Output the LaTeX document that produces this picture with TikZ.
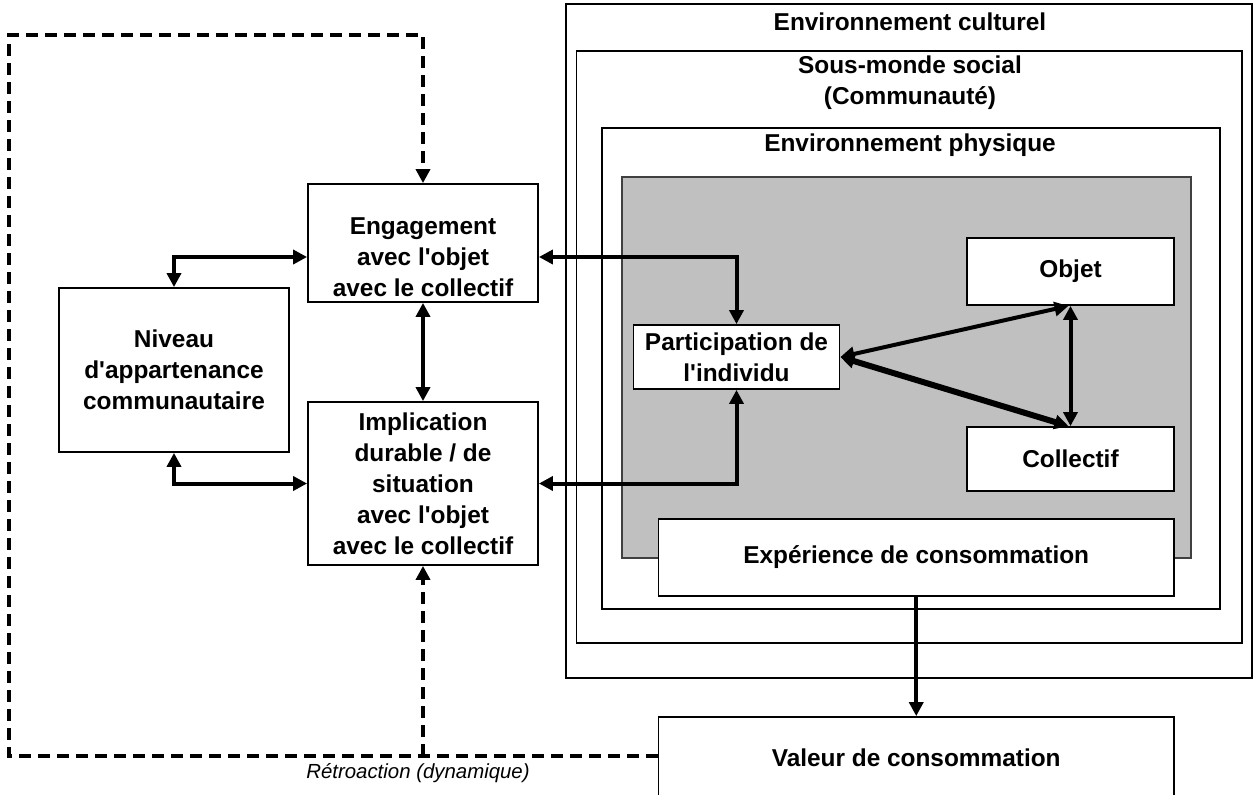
\documentclass[tikz,border=0pt]{standalone}
\usepackage{fontspec}
\setmainfont{Liberation Sans}[Ligatures=TeXOff]
\usetikzlibrary{arrows.meta,calc}
\definecolor{panel}{RGB}{192,192,192}
\begin{document}
\begin{tikzpicture}[x=0.5pt,y=-0.5pt,
  txt/.style={font=\fontsize{12.2}{15.5}\selectfont\bfseries, align=center, inner sep=0pt},
  box/.style={draw=black, line width=0.9pt, fill=white, inner sep=0pt, txt},
  frame/.style={draw=black, line width=0.9pt},
  link/.style={line width=2pt, -{Triangle[length=7pt,width=7pt]}},
  dlink/.style={line width=2pt, {Triangle[length=7pt,width=7pt]}-{Triangle[length=7pt,width=7pt]}},
  fb/.style={line width=2pt, dash pattern=on 6pt off 3.5pt},
  note/.style={font=\fontsize{10.2}{12}\selectfont\itshape, inner sep=0pt}]
\useasboundingbox (0,0) rectangle (1255,794);
\clip (0,0) rectangle (1255,794);

% nested environments
\draw[frame] (566,4) rectangle (1252,678);
\node[txt] (tcult) at (910,22) {Environnement culturel};
\draw[frame] (576.5,51) rectangle (1242,643);
\node[txt] (tsoc) at (910,83) {Sous-monde social\\(Communauté)};
\draw[frame] (601.6,128) rectangle (1220,609);
\node[txt] (tphys) at (910,145) {Environnement physique};
\draw[draw=black!75, line width=0.9pt, fill=panel] (622,177) rectangle (1190.7,558);

% inner blocks
\node[box, minimum width=103pt, minimum height=32pt] (par) at (736.5,357) {Participation de\\l'individu};
\node[box, minimum width=103.5pt, minimum height=33.5pt] (obj) at (1070.5,271.5) {Objet};
\node[box, minimum width=103.5pt, minimum height=32pt] (col) at (1070.5,459) {Collectif};
\node[box, minimum width=257.75pt, minimum height=38.5pt] (exp) at (916.25,557.5) {Expérience de consommation};
\node[box, minimum width=257.75pt, minimum height=40.5pt] (val) at (916.25,757.5) {Valeur de consommation};

% left-hand blocks
\node[box, minimum width=115pt, minimum height=59pt] (eng) at (423,243) {};
\node[txt] (engt) at (423,257) {Engagement\\avec l'objet\\avec le collectif};
\node[box, minimum width=115pt, minimum height=81.5pt] (imp) at (423,483.5) {Implication\\durable / de\\situation\\avec l'objet\\avec le collectif};
\node[box, minimum width=115pt, minimum height=82pt] (niv) at (174,370) {Niveau\\d'appartenance\\communautaire};

% solid connectors
\draw[dlink] (niv.north) |- (eng.west |- engt);
\draw[dlink] (niv.south) |- (imp.west);
\draw[dlink] (eng.south) -- (imp.north);
\draw[dlink] (eng.east |- engt) -| (par.north);
\draw[dlink] (imp.east) -| (par.south);
\draw[dlink] (par.east) -- ($(obj.south)+(-2,0)$);
\draw[dlink, line width=3pt] (par.east) -- ($(col.north)+(-2,0)$);
\draw[dlink] (obj.south) -- (col.north);
\draw[link] (exp.south) -- (val.north);

% feedback loop
\coordinate (fbl) at (9,756);
\coordinate (ftl) at (9,35);
\draw[fb, -{Triangle[length=7pt,width=7pt]}] (val.west |- fbl) -- (fbl) -- (ftl) -| (eng.north);
\draw[fb, -{Triangle[length=7pt,width=7pt]}] (fbl -| imp.south) -- (imp.south);
\node[note] (retro) at (418,773) {Rétroaction (dynamique)};
\end{tikzpicture}
\end{document}
